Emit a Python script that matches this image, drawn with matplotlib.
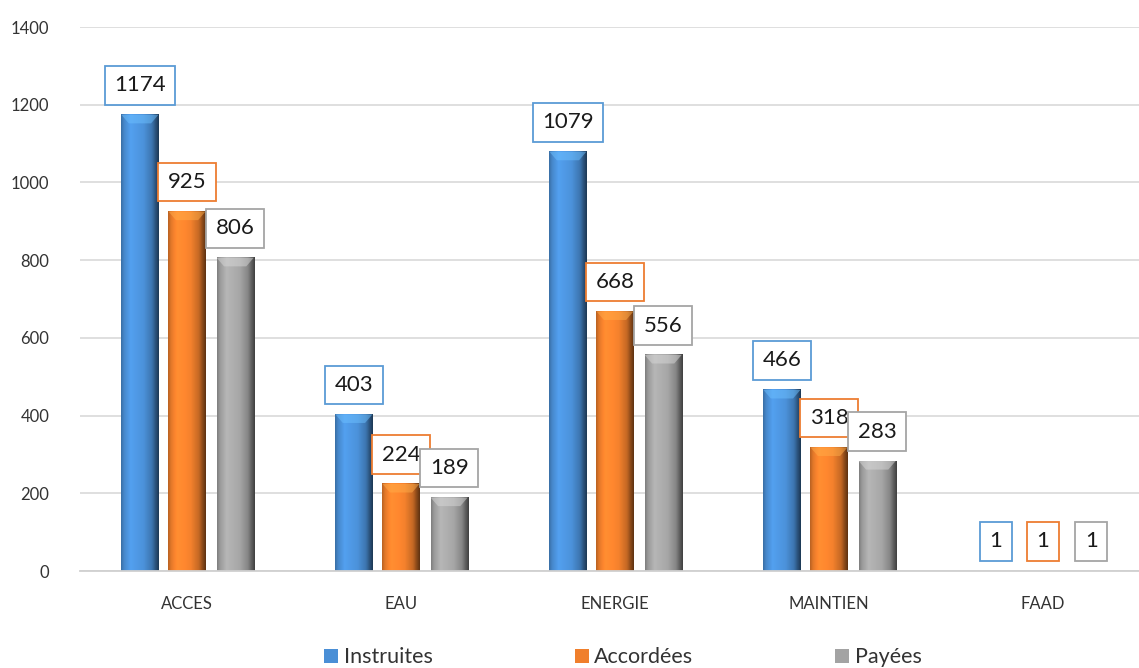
import numpy as np
import matplotlib.pyplot as plt
from matplotlib.patches import Patch, Polygon
from matplotlib.colors import to_rgb

plt.rcParams['font.family'] = ['Lato', 'DejaVu Sans']

categories = ['ACCES', 'EAU', 'ENERGIE', 'MAINTIEN', 'FAAD']
instruites = [1174, 403, 1079, 466, 1]
accordees = [925, 224, 668, 318, 1]
payees = [806, 189, 556, 283, 1]

series = [('Instruites', instruites, '#4a8fd6', '#5b9bd5'),
          ('Accordées', accordees, '#f07f2c', '#ed7d31'),
          ('Payées', payees, '#a3a3a3', '#a5a5a5')]

fig = plt.figure(figsize=(11.39, 6.68), dpi=100)
ax = fig.add_axes([80 / 1139, 97 / 668, 1070 / 1139, 544 / 668])

x = np.arange(len(categories))
width = 0.173
offsets = [-0.22, 0.0, 0.225]

# horizontal shading profile for the bevelled bars
xs = np.linspace(0, 1, 64)
shade = np.interp(xs, [0, 0.08, 0.25, 0.6, 0.82, 0.93, 1.0],
                  [0.78, 0.95, 1.12, 1.02, 0.82, 0.55, 0.4])


def bevel_bar(xc, h, color):
    if h <= 2:
        return
    base = np.array(to_rgb(color))
    img = np.clip(base[None, None, :] * shade[None, :, None], 0, 1)
    x0, x1 = xc - width / 2, xc + width / 2
    ax.imshow(img, extent=(x0, x1, 0, h), aspect='auto', zorder=2,
              interpolation='bilinear')
    cap = 22
    light = np.clip(base * 1.2 + 0.08, 0, 1)
    ax.add_patch(Polygon([(x0, h), (x1, h), (x1 - width * 0.2, h - cap),
                          (x0 + width * 0.2, h - cap)],
                         closed=True, facecolor=light, edgecolor='none',
                         alpha=0.5, zorder=3))


for k, (name, vals, col, edge) in enumerate(series):
    for i, v in enumerate(vals):
        xc = x[i] + offsets[k]
        bevel_bar(xc, v, col)
        ax.annotate(str(v), xy=(xc, v), xytext=(0, 14), textcoords='offset points',
                    ha='center', va='bottom', fontsize=16, color='#1a1a1a',
                    zorder=5 + k,
                    bbox=dict(boxstyle='square,pad=0.42', fc='white', ec=edge, lw=1.3))

ax.set_xlim(-0.5, len(categories) - 0.5)
ax.set_ylim(0, 1400)
ax.set_yticks(range(0, 1401, 200))
ax.set_xticks(x)
ax.set_xticklabels(categories)
ax.tick_params(axis='both', length=0, labelsize=12, colors='#333333')
ax.tick_params(axis='y', pad=22)
ax.tick_params(axis='x', pad=18)
ax.grid(axis='y', color='#d9d9d9', lw=1.2, zorder=0)
ax.set_axisbelow(True)
for s in ['top', 'right', 'left']:
    ax.spines[s].set_visible(False)
ax.spines['bottom'].set_color('#d0d0d0')
ax.spines['bottom'].set_linewidth(1.3)

handles = [Patch(facecolor=c, edgecolor='none', label=n) for n, _, c, _ in series]
fig.legend(handles=handles, loc='lower center', bbox_to_anchor=(0.547, -0.028),
           ncol=3, frameon=False, fontsize=15.5, handlelength=0.65, handleheight=0.65,
           handletextpad=0.25, columnspacing=6.6, labelcolor='#333333')

fig.savefig('out.png', dpi=100)
